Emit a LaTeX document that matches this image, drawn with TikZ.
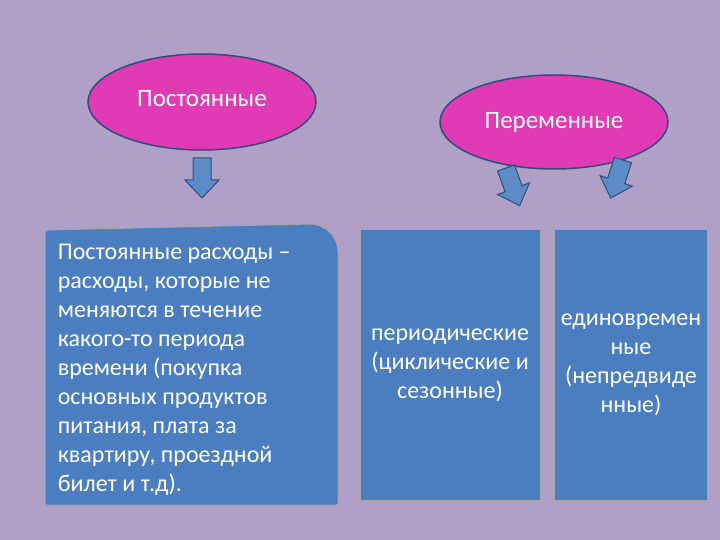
\documentclass[tikz,border=0pt]{standalone}
\usepackage{fontspec}
\setmainfont{Carlito}
\usetikzlibrary{shapes.geometric}
\definecolor{bg}{HTML}{B0A0C8}
\definecolor{mag}{HTML}{E03AB4}
\definecolor{bx}{HTML}{4A7EC0}
\definecolor{edge}{HTML}{2E4F7A}
\begin{document}
\begin{tikzpicture}[x=1pt,y=-1pt,
  oval/.style={ellipse,draw=edge,line width=1.5pt,fill=mag,text=white,font=\fontsize{25}{28}\selectfont},
  panel/.style={draw=gray!70,line width=1pt,fill=bx,text=white,font=\fontsize{24}{29}\selectfont},
  arrshape/.style={draw=edge,line width=1pt,fill=bx!90!white}]
\fill[bg] (0,0) rectangle (720,540);
\useasboundingbox (0,0) rectangle (720,540);
\node[oval,minimum width=228pt,minimum height=96pt] (e1) at (202,102) {\raisebox{8pt}{Постоянные}};
\node[oval,minimum width=228pt,minimum height=94pt] (e2) at (554,122) {Переменные};
\coordinate (a1) at (202,158);
\coordinate (a2) at (506,168);
\coordinate (a3) at (623,160);
\foreach \c/\r in {a1/0,a2/20,a3/-18}{
  \draw[arrshape,shift={(\c)},rotate=\r] (-9,0) -- (9,0) -- (9,22) -- (17,22) -- (0,40) -- (-17,22) -- (-9,22) -- cycle;
}
\draw[panel,rounded corners=4pt] (45,505) -- (45,230) -- (310,224) [rounded corners=28pt] -- (338,224) [rounded corners=2pt] -- (338,505) -- cycle;
\node[panel,draw=none,fill=none,align=left,anchor=north west] (t1) at (54,240) {Постоянные расходы –\\расходы, которые не\\меняются в течение\\какого-то периода\\времени (покупка\\основных продуктов\\питания, плата за\\квартиру, проездной\\билет и т.д).};
\node[panel,minimum width=180pt,minimum height=270pt,align=center] (b2) at (450,365) {периодические\\(циклические и\\сезонные)};
\node[panel,minimum width=153pt,minimum height=270pt,align=center] (b3) at (631,365) {единовремен\\ные\\(непредвиде\\нные)};
\end{tikzpicture}
\end{document}
